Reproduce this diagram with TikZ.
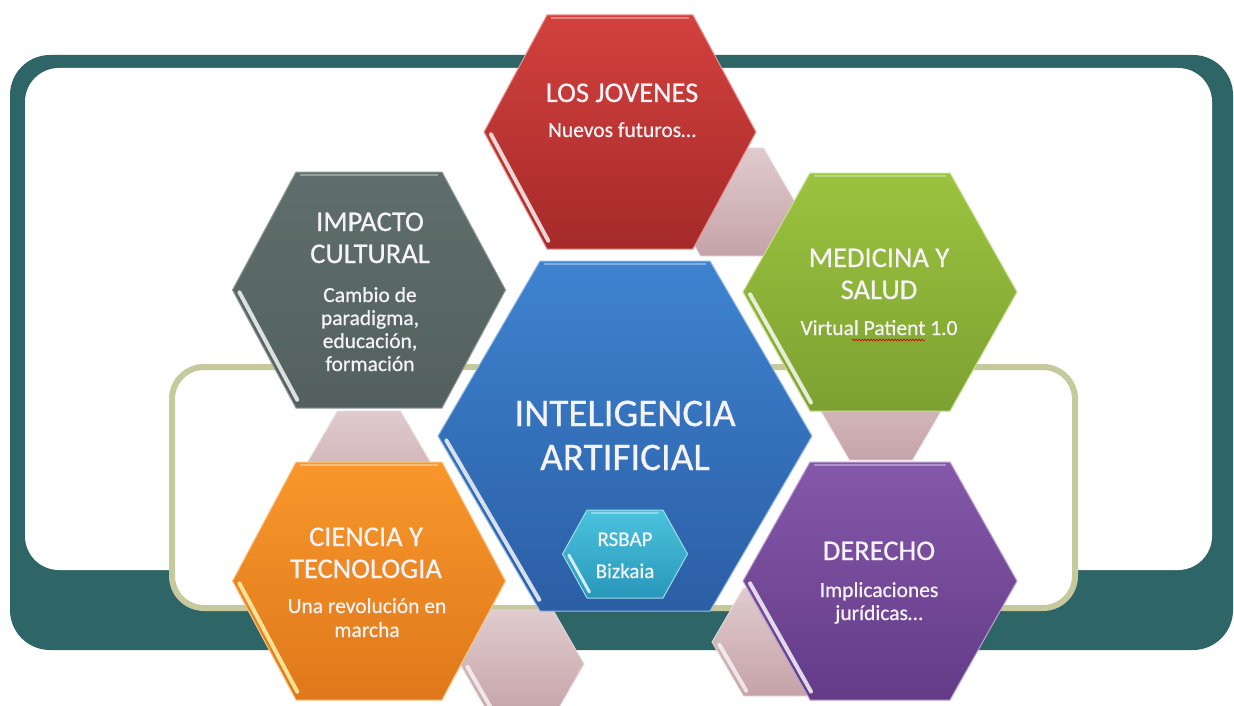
\documentclass[tikz,border=0pt]{standalone}
\usepackage{fontspec}
\setmainfont{Carlito}[FakeBold=0.6]
\usetikzlibrary{calc,decorations.pathmorphing}
\definecolor{frameteal}{HTML}{2E6566}
\definecolor{olivebd}{HTML}{C6C99C}
\definecolor{redT}{HTML}{D3413D}
\definecolor{redB}{HTML}{A52A2A}
\definecolor{grayT}{HTML}{5F6E6C}
\definecolor{grayB}{HTML}{53605E}
\definecolor{greenT}{HTML}{9CC33F}
\definecolor{greenB}{HTML}{7CA131}
\definecolor{blueT}{HTML}{3E83D0}
\definecolor{blueB}{HTML}{2B5EA5}
\definecolor{orangeT}{HTML}{F8972B}
\definecolor{orangeB}{HTML}{DF781B}
\definecolor{purpleT}{HTML}{8558A9}
\definecolor{purpleB}{HTML}{633B88}
\definecolor{tealT}{HTML}{4BC3DD}
\definecolor{tealB}{HTML}{2897BA}
\definecolor{pinkT}{HTML}{E0CBCE}
\definecolor{pinkB}{HTML}{C5A3A8}
\definecolor{txt}{HTML}{F6F3F8}
\newcommand\hexpts[6]{%
  \path (#2-#4,#3) coordinate (#1L) (#2-#6,#3-#5) coordinate (#1TL)
        (#2+#6,#3-#5) coordinate (#1TR) (#2+#4,#3) coordinate (#1R)
        (#2+#6,#3+#5) coordinate (#1BR) (#2-#6,#3+#5) coordinate (#1BL);}
\newcommand\hexfill[2]{\path[#1] (#2L) -- (#2TL) -- (#2TR) -- (#2R) -- (#2BR) -- (#2BL) -- cycle;}
\newcommand\hexstripe[4]{\draw[stripe,#4] ($(#1L)!#2!(#1BL)!5pt!90:(#1BL)$) -- ($(#1L)!#3!(#1BL)!5pt!90:(#1BL)$);}
\newcommand\hextop[1]{\draw[topbevel] ($(#1TL)!4pt!(#1TR)!3pt!-90:(#1TR)$) -- ($(#1TR)!4pt!(#1TL)!3pt!90:(#1TL)$);}
\tikzset{
  stripe/.style={line width=4pt,line cap=round,white,opacity=.8},
  topbevel/.style={line width=2pt,white,opacity=.35},
  hexred/.style={top color=redT,bottom color=redB,draw=redT!55!white,line width=1pt},
  hexgray/.style={top color=grayT,bottom color=grayB,draw=grayT!70!white,line width=1pt},
  hexgreen/.style={top color=greenT,bottom color=greenB,draw=greenT!55!white,line width=1pt},
  hexblue/.style={top color=blueT,bottom color=blueB,draw=blueT!55!white,line width=1pt},
  hexorange/.style={top color=orangeT,bottom color=orangeB,draw=orangeT!55!white,line width=1pt},
  hexpurple/.style={top color=purpleT,bottom color=purpleB,draw=purpleT!55!white,line width=1pt},
  hexteal/.style={top color=tealT,bottom color=tealB,draw=tealT!55!white,line width=1pt},
  hexpink/.style={top color=pinkT,bottom color=pinkB,draw=pinkT!70!white,line width=.8pt},
  title/.style={text=txt,font=\fontsize{28.5}{32}\selectfont,anchor=base,inner sep=0pt},
  sub/.style={text=txt,font=\fontsize{21.5}{24}\selectfont,anchor=base,inner sep=0pt},
  big/.style={text=txt,font=\fontsize{39}{44}\selectfont,anchor=base,inner sep=0pt},
  small/.style={text=txt,font=\fontsize{21}{24}\selectfont,anchor=base,inner sep=0pt},
}
\begin{document}
\begin{tikzpicture}[x=1pt,y=-1pt]
\useasboundingbox (0,0) rectangle (1234,706);
\fill[white] (0,0) rectangle (1234,706);
% frame
\fill[frameteal, rounded corners=40pt] (10,55) rectangle (1233,650);
\fill[white, rounded corners=34pt] (25,68) rectangle (1212,570);
\draw[olivebd, line width=6pt, fill=white, rounded corners=32pt] (172,367) rectangle (1075,608);
% pink connector hexagons
\hexpts{pa}{732}{202}{63}{54}{31.5}
\hexpts{pb}{369}{465}{63}{54}{31.5}
\hexpts{pc}{881}{406}{63}{54}{31.5}
\hexpts{pd}{522}{664}{62}{54}{31}
\hexpts{pe}{775}{642}{63}{54}{31.5}
\hexfill{hexpink}{pa}\hexfill{hexpink}{pb}\hexfill{hexpink}{pc}\hexfill{hexpink}{pd}\hexfill{hexpink}{pe}
\hexstripe{pd}{0.1}{0.95}{opacity=.7}
\hexstripe{pe}{0.1}{0.95}{opacity=.7}
% main hexagons
\hexpts{rd}{620}{132}{136}{117}{73}
\hexpts{gy}{369}{290}{136.5}{118}{73}
\hexpts{gn}{880}{292}{137}{119}{70}
\hexpts{bl}{625}{436}{187}{175}{85}
\hexpts{or}{369}{581}{136.5}{119}{73}
\hexpts{pu}{880}{581}{137}{119}{70}
\hexpts{tl}{625}{554}{62.5}{44}{38}
\foreach \h/\s in {rd/hexred,gy/hexgray,gn/hexgreen,bl/hexblue,or/hexorange,pu/hexpurple,tl/hexteal}{
  \hexfill{\s}{\h}
  \hextop{\h}
}
\hexstripe{rd}{0.04}{0.95}{}
\hexstripe{gy}{0.04}{0.95}{}
\hexstripe{gn}{0.04}{0.95}{}
\hexstripe{bl}{0.04}{0.95}{}
\hexstripe{or}{0.04}{0.95}{color=yellow!30!white}
\hexstripe{pu}{0.04}{0.95}{}
\hexstripe{tl}{0.08}{0.92}{line width=3pt}
% texts
\node[title] (j1) at (622,102) {LOS JOVENES};
\node[sub] (j2) at (622,137) {Nuevos futuros…};
\node[title] (i1) at (370,231) {IMPACTO};
\node[title] (i2) at (370,263) {CULTURAL};
\node[sub] (i3) at (370,302) {Cambio de};
\node[sub] (i4) at (370,325) {paradigma,};
\node[sub] (i5) at (370,348) {educación,};
\node[sub] (i6) at (370,371) {formación};
\node[title] (m1) at (879,267) {MEDICINA Y};
\node[title] (m2) at (879,299) {SALUD};
\node[sub] (m3) at (879,335) {Virtual Patient 1.0};
\draw[red!85!black, line width=.6pt, decorate, decoration={snake, amplitude=1pt, segment length=3pt}] (852,340) -- (925,340);
\node[big] (a1) at (625,426) {INTELIGENCIA};
\node[big] (a2) at (625,470) {ARTIFICIAL};
\node[small] (r1) at (625,546) {RSBAP};
\node[small] (r2) at (625,578) {Bizkaia};
\node[title] (c1) at (366,546) {CIENCIA Y};
\node[title] (c2) at (366,578) {TECNOLOGIA};
\node[sub] (c3) at (367,613) {Una revolución en};
\node[sub] (c4) at (367,637) {marcha};
\node[title] (d1) at (879,560) {DERECHO};
\node[sub] (d2) at (879,597) {Implicaciones};
\node[sub] (d3) at (879,620) {jurídicas…};
\end{tikzpicture}
\end{document}
